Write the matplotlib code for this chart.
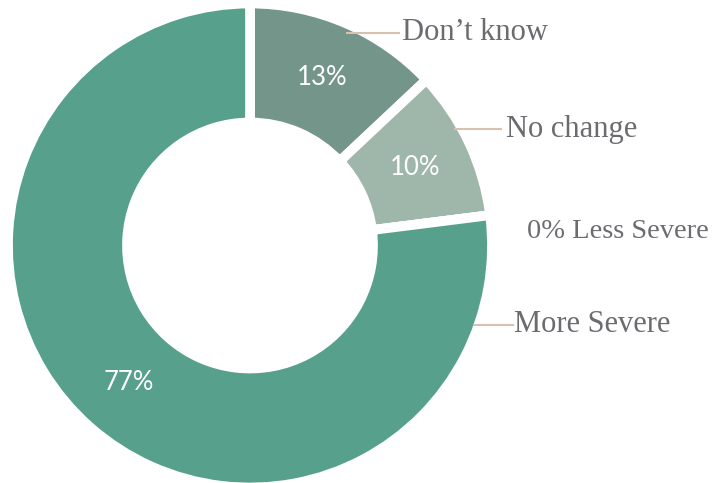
import matplotlib
matplotlib.use("Agg")
import matplotlib.pyplot as plt

categories = ["Don\u2019t know", "No change", "Less Severe", "More Severe"]
values = [13, 10, 0, 77]
colors = ["#73958a", "#9fb7aa", "#56a08c", "#56a08c"]

W, H = 720, 483
fig = plt.figure(figsize=(W / 100, H / 100), dpi=100)
ax = fig.add_axes([0, 0, 1, 1])

cx, cy = 250, H - 245.5
R = 242
ring = 119

def fmt(p):
    return f"{p:.0f}%" if p > 0.5 else ""

wedges, texts, autotexts = ax.pie(
    values, colors=colors, startangle=90, counterclock=False,
    center=(cx, cy), radius=R, frame=True,
    wedgeprops=dict(width=ring, edgecolor="white", linewidth=7),
    autopct=fmt, pctdistance=0.755,
    textprops=dict(color="white", fontsize=18.5, family="Lato", fontweight="normal"),
)
ax.set_xlim(0, W)
ax.set_ylim(0, H)
ax.set_aspect("equal")
ax.axis("off")

text_color = "#6c6c70"
line_color = "#d6c2b0"
serif = ["Liberation Serif", "DejaVu Serif"]

# leader lines and outside labels (pixel positions from top)
label_specs = [
    (categories[0], 33, 347, 399, 402),
    (categories[1], 129, 455, 501, 506),
    (categories[3], 325, 474, 513, 514),
]
for name, ypx, x0, x1, tx in label_specs:
    y = H - ypx
    ax.plot([x0, x1], [y, y], color=line_color, lw=1.5, zorder=5)
    ax.text(tx, y, name, ha="left", va="center", fontsize=22,
            color=text_color, family=serif, zorder=6)

zero_label = f"{values[2]}% {categories[2]}"
ax.text(527, H - 231, zero_label, ha="left", va="center", fontsize=20.5,
        color=text_color, family=serif)

fig.savefig("out.png", dpi=100)
